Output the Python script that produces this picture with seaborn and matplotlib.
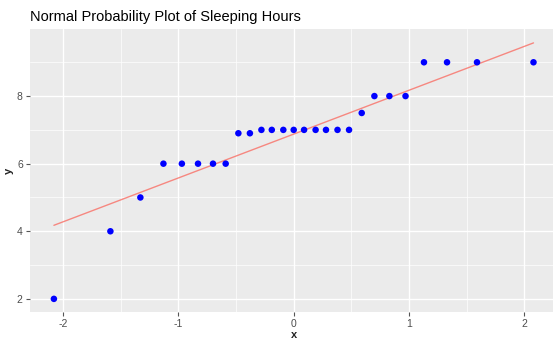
import numpy as np
import pandas as pd
import matplotlib
matplotlib.use("Agg")
import matplotlib.pyplot as plt
import seaborn as sns

# theoretical normal quantiles and sorted sleeping hours
theoretical = [-2.08, -1.59, -1.33, -1.13, -0.97, -0.83, -0.70, -0.59, -0.48,
               -0.38, -0.28, -0.19, -0.09, 0.00, 0.09, 0.19, 0.28, 0.38,
               0.48, 0.59, 0.70, 0.83, 0.97, 1.13, 1.33, 1.59, 2.08]
hours = [2, 4, 5, 6, 6, 6, 6, 6, 6.9, 6.9, 7, 7, 7, 7, 7, 7, 7, 7, 7,
         7.5, 8, 8, 8, 9, 9, 9, 9]

x_ticks = [-2, -1, 0, 1, 2]
y_ticks = [2, 4, 6, 8]

df = pd.DataFrame({"x": theoretical, "y": hours})

# reference line through the quartiles (like qqline)
q1, q3 = np.percentile(df["y"], [25, 75])
z = 0.6745
slope = (q3 - q1) / (2 * z)
intercept = q1 + slope * z
line_df = pd.DataFrame({"x": [df["x"].min(), df["x"].max()]})
line_df["y"] = intercept + slope * line_df["x"]

sns.set_theme(style="darkgrid", rc={
    "axes.facecolor": "#EBEBEB",
    "grid.color": "white",
})
plt.rcParams["font.family"] = ["Liberation Sans", "DejaVu Sans"]
plt.rcParams["axes.unicode_minus"] = False

fig = plt.figure(figsize=(5.53, 3.41), dpi=100)
ax = fig.add_axes([0.0537, 0.0859, 0.9548, 0.8276])

sns.lineplot(data=line_df, x="x", y="y", ax=ax, color="#F8766D",
             linewidth=1.0, alpha=0.85)
sns.scatterplot(data=df, x="x", y="y", ax=ax, color="blue", s=22,
                edgecolor="none", zorder=3)

ax.set_xlim(-2.29, 2.29)
ax.set_ylim(1.62, 9.97)
ax.set_xticks(x_ticks)
ax.set_yticks(y_ticks)
ax.set_xticks([-1.5, -0.5, 0.5, 1.5], minor=True)
ax.set_yticks([3, 5, 7, 9], minor=True)
ax.grid(which="major", color="white", linewidth=1.0)
ax.grid(which="minor", color="white", linewidth=0.5)
ax.tick_params(which="major", length=3, width=0.8, color="#555555",
               labelsize=7.5, labelcolor="#4D4D4D", pad=2, bottom=True, left=True)
ax.tick_params(which="minor", length=0)
for s in ax.spines.values():
    s.set_visible(False)

ax.set_xlabel("x", fontsize=8, fontweight="bold", color="#222222", labelpad=1)
ax.set_ylabel("y", fontsize=8, fontweight="bold", color="#222222", labelpad=2)
ax.set_title("Normal Probability Plot of Sleeping Hours", loc="left",
             fontsize=10.5, color="black", pad=6, x=0.0)

fig.savefig("out.png", dpi=100)
